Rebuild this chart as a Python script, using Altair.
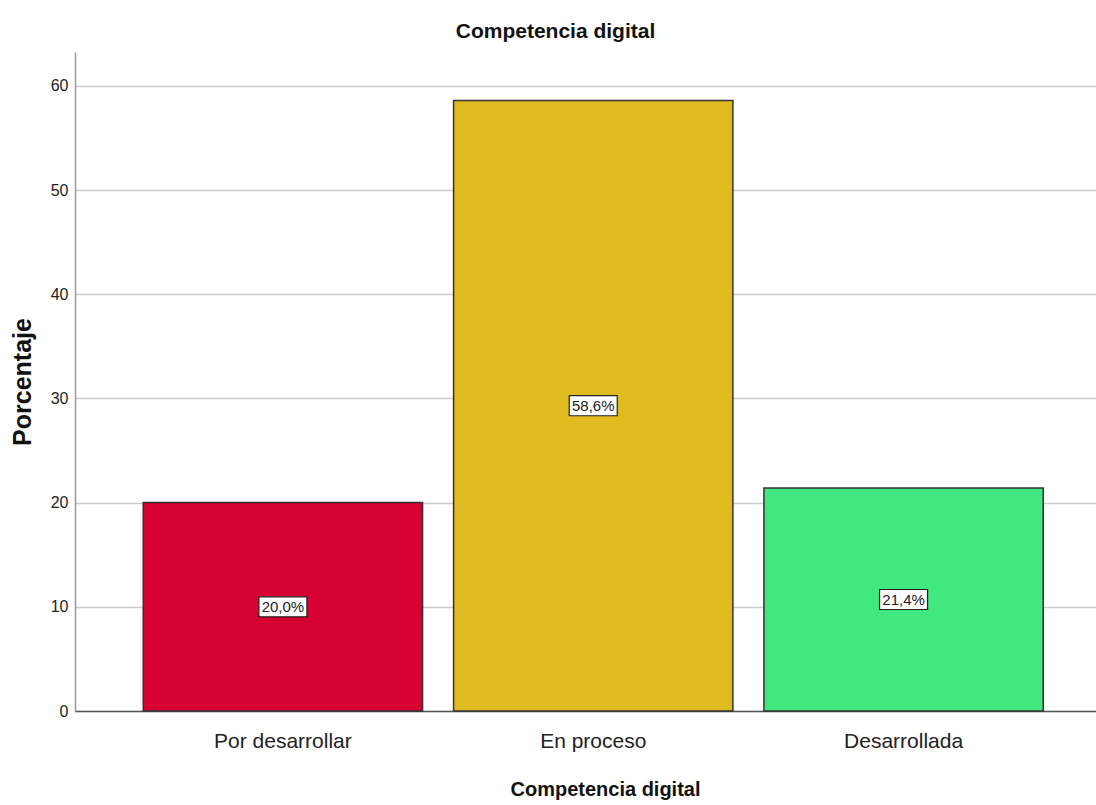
import altair as alt
import pandas as pd

# Frequency table: share of respondents by level of digital competence
categorias = ["Por desarrollar", "En proceso", "Desarrollada"]
porcentajes = [20.0, 58.6, 21.4]
colores = ["#D70032", "#E0BB1F", "#41E87F"]
ticks_y = [0, 10, 20, 30, 40, 50, 60]

FONT = "Liberation Sans, Arial, sans-serif"

df = pd.DataFrame({
    "categoria": categorias,
    "porcentaje": porcentajes,
})
df["mitad"] = df["porcentaje"] / 2
df["etiqueta"] = df["porcentaje"].map(lambda v: f"{v:.1f}%".replace(".", ","))

x_enc = alt.X(
    "categoria:N",
    sort=categorias,
    scale=alt.Scale(paddingInner=0.1, paddingOuter=0.195, align=0.564),
    axis=alt.Axis(
        title="Competencia digital",
        titleFont=FONT,
        titleFontSize=20,
        titleFontWeight="bold",
        titleColor="#111",
        titleX=530,
        titleY=84,
        titleAlign="center",
        titleBaseline="alphabetic",
        labelFont=FONT,
        labelFontSize=21,
        labelColor="#222",
        labelAngle=0,
        labelPadding=19,
        ticks=False,
        domainColor="#555",
        domainWidth=1.5,
        grid=False,
    ),
)

y_scale = alt.Scale(domain=[0, 63.25], nice=False, zero=True)

bars = alt.Chart(df).mark_bar(
    stroke="#333", strokeWidth=1.5
).encode(
    x=x_enc,
    y=alt.Y(
        "porcentaje:Q",
        scale=y_scale,
        axis=alt.Axis(
            values=ticks_y,
            title="Porcentaje",
            titleFont=FONT,
            titleFontSize=25,
            titleFontWeight="bold",
            titleColor="#111",
            titleAngle=270,
            titleX=-53,
            titleY=329.5,
            titleAlign="center",
            titleBaseline="middle",
            labelFont=FONT,
            labelFontSize=16,
            labelColor="#222",
            labelPadding=7,
            ticks=False,
            domainColor="#999",
            domainWidth=1.5,
            grid=True,
            gridColor="#cccccc",
            gridWidth=1.5,
        ),
    ),
    color=alt.Color(
        "categoria:N",
        scale=alt.Scale(domain=categorias, range=colores),
        legend=None,
    ),
)

# White boxed value labels centred inside each bar
cajas = alt.Chart(df).mark_point(
    shape="M-1,-0.4167L1,-0.4167L1,0.4167L-1,0.4167Z",
    size=2304,
    filled=True,
    fill="white",
    stroke="#222",
    strokeWidth=1.2,
    opacity=1,
).encode(
    x=alt.X("categoria:N", sort=categorias),
    y=alt.Y("mitad:Q", scale=y_scale),
)

textos = alt.Chart(df).mark_text(
    font=FONT, fontSize=15, color="#222", baseline="middle", align="center"
).encode(
    x=alt.X("categoria:N", sort=categorias),
    y=alt.Y("mitad:Q", scale=y_scale),
    text="etiqueta:N",
)

chart = alt.layer(bars, cajas, textos).properties(
    width=1021,
    height=659,
    padding={"left": 75, "top": 52, "right": 0, "bottom": 90},
    autosize=alt.AutoSizeParams(type="none"),
    background="white",
    title=alt.TitleParams(
        "Competencia digital",
        font=FONT,
        fontSize=21,
        fontWeight="bold",
        color="#111",
        anchor="middle",
        baseline="alphabetic",
        offset=14,
        dx=-30,
        dy=21,
    ),
).configure_view(stroke=None)

chart.save("out.html", embed_options={"renderer": "svg", "actions": False})
